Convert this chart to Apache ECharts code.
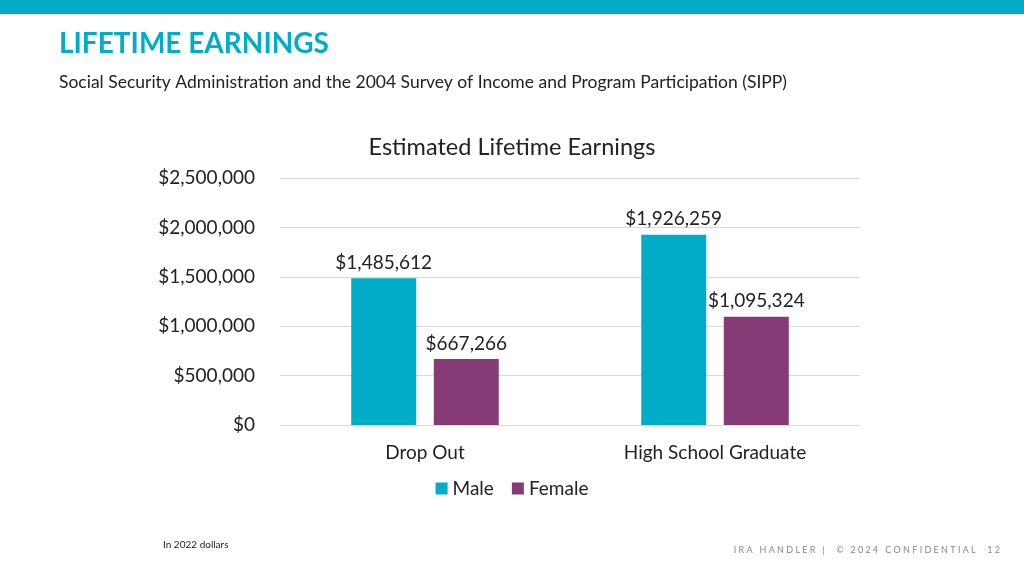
<!DOCTYPE html>
<html>
<head>
<meta charset="utf-8">
<script src="https://cdn.jsdelivr.net/npm/echarts@6/dist/echarts.min.js"></script>
<style>html,body{margin:0;padding:0;background:#fff}#c{width:1024px;height:576px}</style>
</head>
<body>
<div id="c"></div>
<script>
const categories = ['Drop Out', 'High School Graduate'];
const maleValues = [1485612, 1926259];
const femaleValues = [667266, 1095324];
const seriesNames = ['Male', 'Female'];
const yTicks = [0, 500000, 1000000, 1500000, 2000000, 2500000];

const fmt = v => '$' + Math.round(v).toLocaleString('en-US');
const F = 'Lato, "Open Sans", sans-serif';
const chart = echarts.init(document.getElementById('c'));
chart.setOption({
  backgroundColor: '#ffffff',
  animation: false,
  title: {
    text: 'Estimated Lifetime Earnings',
    left: 'center', top: 130,
    textStyle: { fontFamily: F, fontSize: 23.5, fontWeight: 'normal', color: '#222' }
  },
  legend: {
    data: seriesNames, top: 474, left: 'center',
    itemWidth: 12, itemHeight: 12, itemGap: 18, icon: 'rect',
    textStyle: { fontFamily: F, fontSize: 19, color: '#222' }
  },
  grid: { left: 280, right: 164, top: 178, bottom: 151, containLabel: false },
  xAxis: {
    type: 'category', data: categories,
    axisLine: { show: true, lineStyle: { color: '#d9d9d9' } },
    axisTick: { show: false },
    axisLabel: { fontFamily: F, fontSize: 19, color: '#222', margin: 18 }
  },
  yAxis: {
    type: 'value', min: yTicks[0], max: yTicks[yTicks.length - 1], interval: 500000,
    axisLine: { show: false }, axisTick: { show: false },
    splitLine: { lineStyle: { color: '#d9d9d9' } },
    axisLabel: { fontFamily: F, fontSize: 19, color: '#222', margin: 25, formatter: fmt }
  },
  series: [
    { name: seriesNames[0], type: 'bar', data: maleValues, barWidth: 65, barGap: '27%',
      itemStyle: { color: '#00ACC6' },
      label: { show: true, position: 'top', distance: 6, formatter: p => fmt(p.value),
        fontFamily: F, fontSize: 19, color: '#222' } },
    { name: seriesNames[1], type: 'bar', data: femaleValues, barWidth: 65,
      itemStyle: { color: '#853B75' },
      label: { show: true, position: 'top', distance: 6, formatter: p => fmt(p.value),
        fontFamily: F, fontSize: 19, color: '#222' } }
  ],
  graphic: [
    { type: 'rect', left: 0, top: 0, shape: { width: 1024, height: 14 }, style: { fill: '#00ACC6' } },
    { type: 'text', left: 59, top: 30, style: { text: 'LIFETIME EARNINGS', fontFamily: F, fontSize: 28, fontWeight: 'bold', fill: '#00ACC6' } },
    { type: 'text', left: 59, top: 73, style: { text: 'Social Security Administration and the 2004 Survey of Income and Program Participation (SIPP)', fontFamily: F, fontSize: 17.5, fill: '#222' } },
    { type: 'text', left: 163, top: 540, style: { text: 'In 2022 dollars', fontFamily: F, fontSize: 10, fill: '#222' } },
    { type: 'text', right: 24, top: 546, style: { text: 'I R A   H A N D L E R   |     ©   2 0 2 4   C O N F I D E N T I A L     1 2', fontFamily: F, fontSize: 9, fill: '#888' } }
  ]
});
</script>
</body>
</html>
